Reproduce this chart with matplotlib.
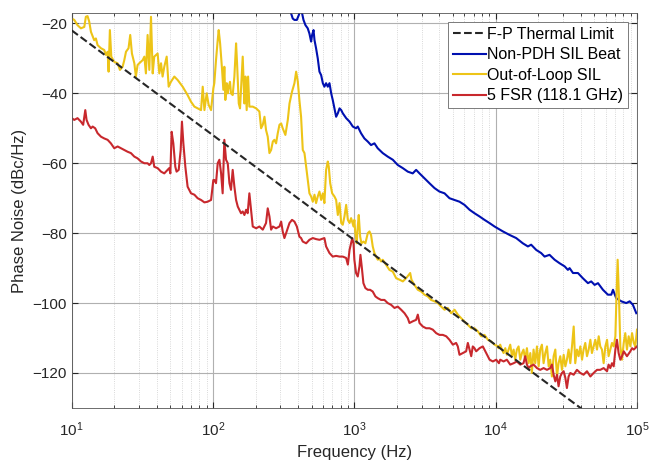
import numpy as np
import matplotlib
matplotlib.use('Agg')
import matplotlib.pyplot as plt
from matplotlib.ticker import LogLocator, NullFormatter

plt.rcParams['font.family'] = ['Liberation Sans', 'DejaVu Sans']
plt.rcParams['mathtext.fontset'] = 'custom'
plt.rcParams['mathtext.rm'] = 'Liberation Sans'

# F-P thermal limit (straight line on the log axis)
thermal_f = [10, 1e5]
thermal_db = [-22, -142]

# Non-PDH SIL beat (log10 of frequency, dBc/Hz)
blue_logf = [2.541, 2.552, 2.564, 2.576, 2.593, 2.607, 2.616, 2.630, 2.640, 2.654,
             2.670, 2.682, 2.694, 2.701, 2.711, 2.718, 2.729, 2.741, 2.753, 2.765,
             2.777, 2.788, 2.800, 2.812, 2.824, 2.836, 2.847, 2.859, 2.871, 2.883,
             2.895, 2.907, 2.918, 2.942, 2.966, 2.989, 3.012, 3.024, 3.047, 3.071,
             3.095, 3.118, 3.142, 3.165, 3.201, 3.236, 3.272, 3.307, 3.343, 3.378,
             3.413, 3.437, 3.461, 3.496, 3.531, 3.567, 3.602, 3.638, 3.673, 3.708,
             3.744, 3.779, 3.815, 3.850, 3.885, 3.921, 3.956, 3.992, 4.051, 4.098,
             4.145, 4.192, 4.228, 4.251, 4.287, 4.322, 4.346, 4.381, 4.417, 4.452,
             4.488, 4.511, 4.523, 4.547, 4.582, 4.617, 4.653, 4.676, 4.700, 4.724,
             4.759, 4.794, 4.818, 4.830, 4.853, 4.889, 4.924, 4.948, 4.971, 4.995]
blue_db = [-14.3, -17.1, -18.6, -19.0, -19.0, -17.6, -16.2, -17.1, -19.0, -20.5,
           -21.4, -22.9, -25.2, -23.3, -21.9, -24.8, -27.1, -30.0, -33.8, -34.8,
           -37.1, -38.1, -37.1, -38.1, -37.1, -40.0, -41.9, -44.3, -46.7, -45.7,
           -44.3, -44.8, -45.7, -47.1, -48.1, -49.5, -50.0, -49.5, -51.4, -52.9,
           -53.8, -54.8, -54.3, -55.7, -57.1, -58.1, -59.0, -60.5, -61.4, -62.4,
           -62.9, -61.9, -62.9, -64.3, -65.7, -67.1, -68.1, -68.6, -70.0, -70.5,
           -71.0, -71.9, -73.3, -74.3, -75.2, -76.2, -77.1, -78.1, -79.5, -80.5,
           -81.4, -82.9, -83.8, -83.3, -84.8, -85.7, -86.7, -86.2, -87.6, -88.6,
           -89.5, -90.5, -90.0, -91.4, -91.4, -92.9, -94.3, -93.8, -94.8, -94.3,
           -96.2, -97.6, -97.6, -96.2, -98.6, -99.5, -100.0, -99.5, -100.5, -102.9]

# Out-of-loop SIL
yel_logf = [1.000, 1.018, 1.041, 1.065, 1.089, 1.100, 1.112, 1.124, 1.136, 1.159,
            1.171, 1.183, 1.207, 1.230, 1.242, 1.254, 1.261, 1.270, 1.280, 1.301,
            1.325, 1.341, 1.360, 1.372, 1.384, 1.402, 1.414, 1.426, 1.443, 1.454,
            1.466, 1.478, 1.502, 1.514, 1.525, 1.537, 1.549, 1.561, 1.573, 1.584,
            1.608, 1.620, 1.632, 1.643, 1.655, 1.672, 1.686, 1.702, 1.726, 1.750,
            1.785, 1.820, 1.844, 1.868, 1.891, 1.915, 1.927, 1.939, 1.955, 1.969,
            1.986, 2.002, 2.009, 2.021, 2.033, 2.040, 2.050, 2.064, 2.073, 2.080,
            2.087, 2.097, 2.104, 2.111, 2.120, 2.127, 2.139, 2.151, 2.163, 2.170,
            2.182, 2.191, 2.203, 2.210, 2.222, 2.229, 2.238, 2.248, 2.257, 2.281,
            2.305, 2.328, 2.340, 2.352, 2.364, 2.375, 2.387, 2.399, 2.411, 2.423,
            2.434, 2.446, 2.458, 2.470, 2.482, 2.493, 2.512, 2.529, 2.541, 2.559,
            2.576, 2.588, 2.600, 2.611, 2.623, 2.635, 2.647, 2.659, 2.670, 2.682,
            2.694, 2.706, 2.718, 2.729, 2.741, 2.753, 2.765, 2.777, 2.788, 2.800,
            2.812, 2.819, 2.829, 2.843, 2.859, 2.871, 2.883, 2.895, 2.907, 2.918,
            2.930, 2.942, 2.954, 2.966, 2.977, 2.994, 3.000, 3.007, 3.017, 3.024,
            3.031, 3.041, 3.050, 3.064, 3.078, 3.095, 3.107, 3.118, 3.130, 3.142,
            3.154, 3.166, 3.177, 3.189, 3.201, 3.225, 3.248, 3.272, 3.296, 3.319,
            3.343, 3.366, 3.385, 3.395, 3.404, 3.425, 3.449, 3.473, 3.496, 3.520,
            3.543, 3.567, 3.591, 3.614, 3.638, 3.661, 3.685, 3.709, 3.732, 3.756,
            3.779, 3.803, 3.827, 3.850, 3.874, 3.898, 3.921, 3.945, 3.968, 3.992,
            4.016, 4.020, 4.032, 4.044, 4.056, 4.068, 4.079, 4.091, 4.103, 4.115,
            4.127, 4.138, 4.150, 4.162, 4.174, 4.186, 4.197, 4.209, 4.221, 4.233,
            4.245, 4.256, 4.268, 4.280, 4.292, 4.304, 4.315, 4.327, 4.339, 4.351,
            4.363, 4.375, 4.386, 4.398, 4.410, 4.422, 4.434, 4.445, 4.457, 4.469,
            4.481, 4.493, 4.504, 4.516, 4.528, 4.540, 4.552, 4.563, 4.575, 4.587,
            4.599, 4.611, 4.622, 4.634, 4.646, 4.658, 4.670, 4.681, 4.693, 4.705,
            4.717, 4.729, 4.740, 4.752, 4.764, 4.776, 4.788, 4.799, 4.811, 4.823,
            4.835, 4.847, 4.854, 4.863, 4.873, 4.882, 4.894, 4.906, 4.917, 4.929,
            4.941, 4.953, 4.965, 4.977, 4.988, 5.000]
yel_db = [-18.6, -19.0, -20.5, -21.4, -21.0, -18.1, -17.9, -19.5, -22.4, -24.8,
          -24.3, -26.2, -27.1, -27.6, -29.0, -28.1, -33.8, -21.9, -29.5, -31.0,
          -31.4, -33.3, -32.4, -30.5, -28.1, -27.1, -23.3, -28.6, -31.4, -35.2,
          -31.9, -31.4, -30.5, -29.5, -34.3, -23.3, -33.3, -18.1, -34.3, -29.5,
          -28.6, -34.3, -31.4, -35.2, -32.4, -29.5, -38.1, -36.7, -35.2, -36.2,
          -38.1, -40.5, -42.4, -43.8, -44.3, -44.8, -38.1, -44.8, -40.0, -43.3,
          -44.8, -38.6, -37.1, -30.5, -24.8, -21.9, -25.7, -33.3, -39.0, -32.4,
          -41.9, -37.1, -40.0, -38.1, -36.7, -40.0, -40.5, -35.2, -25.7, -31.4,
          -42.9, -44.3, -35.2, -29.5, -42.9, -35.2, -44.8, -35.2, -43.8, -43.8,
          -44.3, -45.2, -50.0, -49.0, -46.7, -50.5, -52.4, -57.1, -56.2, -53.8,
          -53.3, -54.3, -51.4, -49.0, -48.6, -50.0, -51.9, -47.6, -42.9, -39.5,
          -37.1, -33.8, -36.7, -41.9, -46.7, -56.2, -57.1, -61.0, -64.8, -68.6,
          -69.5, -71.0, -69.0, -71.4, -69.5, -68.1, -70.5, -68.6, -71.4, -61.9,
          -59.5, -61.0, -65.7, -68.6, -69.5, -70.5, -74.8, -71.4, -77.1, -77.6,
          -75.2, -71.9, -76.2, -77.1, -75.7, -78.1, -76.2, -80.0, -82.9, -78.1,
          -74.8, -81.0, -82.9, -82.4, -82.9, -80.0, -79.5, -80.5, -83.8, -85.7,
          -86.7, -87.6, -87.2, -88.1, -87.6, -89.1, -90.5, -91.0, -92.9, -93.3,
          -93.8, -92.9, -91.9, -91.4, -93.3, -94.8, -96.2, -96.7, -97.6, -98.1,
          -99.1, -99.5, -100.0, -101.0, -101.9, -101.4, -102.9, -101.9, -103.3, -104.3,
          -105.3, -106.2, -107.2, -107.2, -108.1, -109.5, -109.1, -110.5, -111.0, -111.9,
          -112.4, -112.9, -111.9, -113.3, -114.3, -112.9, -114.8, -113.3, -111.9, -115.2,
          -113.3, -116.2, -113.3, -112.4, -116.2, -114.3, -113.3, -116.2, -112.9, -117.2,
          -114.3, -120.0, -113.3, -117.2, -112.4, -118.1, -113.3, -111.9, -117.2, -114.3,
          -112.4, -118.1, -116.2, -121.0, -115.2, -113.3, -121.0, -117.2, -115.2, -119.1,
          -114.8, -118.1, -116.2, -113.3, -117.2, -112.4, -106.7, -117.2, -113.3, -115.2,
          -112.4, -116.2, -113.3, -111.4, -115.2, -113.3, -110.5, -114.3, -112.4, -110.5,
          -113.3, -109.5, -112.4, -113.3, -117.2, -112.4, -110.5, -115.2, -113.3, -111.4,
          -112.4, -109.5, -99.1, -87.6, -99.1, -112.4, -116.2, -111.4, -108.6, -113.3,
          -109.5, -112.4, -108.6, -111.4, -112.4, -107.6]

# 5 FSR (118.1 GHz)
red_logf = [1.000, 1.018, 1.041, 1.065, 1.081, 1.096, 1.105, 1.119, 1.136, 1.148,
            1.166, 1.183, 1.207, 1.230, 1.254, 1.277, 1.301, 1.325, 1.348, 1.372,
            1.395, 1.419, 1.443, 1.466, 1.490, 1.514, 1.537, 1.549, 1.561, 1.573,
            1.584, 1.608, 1.632, 1.655, 1.667, 1.679, 1.690, 1.698, 1.707, 1.719,
            1.733, 1.742, 1.757, 1.771, 1.780, 1.790, 1.804, 1.820, 1.844, 1.868,
            1.891, 1.915, 1.939, 1.962, 1.986, 2.002, 2.009, 2.021, 2.033, 2.045,
            2.057, 2.068, 2.080, 2.092, 2.104, 2.116, 2.127, 2.139, 2.151, 2.163,
            2.175, 2.186, 2.198, 2.210, 2.222, 2.234, 2.245, 2.257, 2.269, 2.281,
            2.305, 2.328, 2.352, 2.375, 2.387, 2.399, 2.411, 2.423, 2.446, 2.470,
            2.482, 2.493, 2.505, 2.517, 2.541, 2.559, 2.576, 2.593, 2.611, 2.623,
            2.635, 2.659, 2.682, 2.706, 2.729, 2.753, 2.788, 2.800, 2.824, 2.847,
            2.871, 2.895, 2.918, 2.942, 2.954, 2.966, 2.985, 2.994, 3.000, 3.012,
            3.024, 3.036, 3.043, 3.052, 3.064, 3.078, 3.095, 3.111, 3.130, 3.149,
            3.166, 3.189, 3.213, 3.236, 3.260, 3.284, 3.307, 3.331, 3.355, 3.378,
            3.390, 3.414, 3.437, 3.449, 3.461, 3.484, 3.508, 3.532, 3.555, 3.579,
            3.602, 3.626, 3.650, 3.673, 3.697, 3.720, 3.732, 3.744, 3.768, 3.791,
            3.803, 3.815, 3.827, 3.838, 3.850, 3.862, 3.886, 3.909, 3.933, 3.957,
            3.980, 4.004, 4.023, 4.032, 4.056, 4.079, 4.103, 4.127, 4.150, 4.174,
            4.197, 4.209, 4.221, 4.233, 4.245, 4.268, 4.292, 4.315, 4.339, 4.363,
            4.386, 4.398, 4.410, 4.422, 4.434, 4.445, 4.457, 4.469, 4.481, 4.493,
            4.504, 4.516, 4.528, 4.552, 4.575, 4.599, 4.622, 4.646, 4.670, 4.693,
            4.717, 4.740, 4.764, 4.788, 4.799, 4.811, 4.823, 4.835, 4.847, 4.858,
            4.870, 4.882, 4.894, 4.906, 4.929, 4.953, 4.965, 4.977, 5.000]
red_db = [-47.1, -47.6, -47.1, -48.1, -49.0, -44.8, -47.6, -49.0, -50.0, -49.5,
          -50.0, -51.4, -52.4, -52.9, -53.3, -54.3, -55.7, -55.2, -55.7, -56.2,
          -56.7, -57.1, -58.1, -58.6, -59.5, -60.0, -60.0, -60.5, -60.0, -58.1,
          -61.0, -61.4, -62.4, -62.9, -62.4, -61.9, -61.4, -62.9, -51.0, -54.3,
          -61.0, -62.4, -61.9, -56.2, -48.1, -54.3, -61.0, -66.7, -68.6, -69.0,
          -70.0, -70.5, -71.2, -71.0, -70.5, -64.8, -64.8, -65.7, -60.0, -59.0,
          -62.9, -68.6, -53.3, -59.0, -60.0, -65.7, -67.6, -61.9, -66.7, -70.5,
          -72.4, -73.3, -74.3, -73.8, -74.8, -73.3, -74.3, -68.6, -73.3, -78.1,
          -78.6, -78.1, -79.0, -77.1, -72.9, -75.2, -79.0, -78.1, -78.6, -78.1,
          -76.7, -79.5, -81.4, -80.0, -77.1, -76.2, -76.7, -78.1, -81.0, -81.4,
          -82.4, -82.9, -81.9, -81.4, -81.7, -81.9, -81.4, -83.8, -85.7, -86.7,
          -86.5, -86.7, -86.7, -87.1, -89.0, -84.8, -81.4, -82.9, -87.6, -91.4,
          -92.4, -89.5, -86.2, -89.5, -94.3, -95.7, -96.2, -96.2, -96.7, -98.1,
          -98.6, -99.1, -99.1, -100.0, -100.5, -101.4, -101.0, -101.9, -102.9, -104.3,
          -105.7, -105.2, -104.8, -103.3, -105.7, -106.7, -107.2, -107.2, -107.6, -108.6,
          -109.1, -109.1, -109.5, -110.5, -111.9, -111.4, -112.4, -114.8, -114.3, -113.8,
          -111.4, -113.3, -115.2, -112.4, -112.9, -113.8, -112.9, -112.4, -114.3, -116.2,
          -116.7, -116.2, -117.2, -116.2, -116.7, -116.2, -117.6, -117.2, -116.7, -117.6,
          -117.2, -115.2, -117.6, -118.6, -118.1, -117.6, -118.6, -119.1, -118.6, -119.1,
          -118.6, -117.6, -120.5, -122.4, -120.5, -123.8, -121.0, -120.0, -119.5, -121.4,
          -124.3, -121.0, -120.0, -120.5, -119.1, -120.0, -120.5, -119.5, -121.0, -120.0,
          -119.1, -119.1, -118.6, -119.5, -117.6, -118.6, -117.2, -118.1, -113.3, -110.5,
          -114.3, -116.2, -115.2, -113.8, -115.2, -113.8, -112.9, -113.3, -112.4]

fig = plt.figure(figsize=(6.52, 4.62), dpi=100)
ax = fig.add_axes([0.110, 0.117, 0.867, 0.855])

ax.semilogx(thermal_f, thermal_db, '--', color='#262626', lw=1.5, label='F-P Thermal Limit', zorder=5)
ax.semilogx(10 ** np.array(blue_logf), blue_db, color='#0010B0', lw=1.5, label='Non-PDH SIL Beat')
ax.semilogx(10 ** np.array(yel_logf), yel_db, color='#EDC417', lw=1.5, label='Out-of-Loop SIL')
ax.semilogx(10 ** np.array(red_logf), red_db, color='#C8282D', lw=1.5, label='5 FSR (118.1 GHz)')

ax.set_xlim(10, 1e5)
ax.set_ylim(-130, -17)
ax.set_yticks([-120, -100, -80, -60, -40, -20])
ax.xaxis.set_minor_locator(LogLocator(base=10, subs=np.arange(2, 10), numticks=20))
ax.xaxis.set_minor_formatter(NullFormatter())

ax.grid(True, which='major', color='#b0b0b0', lw=0.8)
ax.grid(True, which='minor', axis='x', color='#cccccc', lw=0.6, ls=':')
ax.set_axisbelow(True)

ax.tick_params(which='both', direction='in', top=True, right=True, labelsize=11, colors='#262626')
ax.tick_params(which='major', length=4)
ax.tick_params(axis='x', which='major', pad=9)
ax.tick_params(which='minor', length=2)
for s in ax.spines.values():
    s.set_color('#555555')
    s.set_linewidth(0.6)

ax.set_xlabel('Frequency (Hz)', fontsize=12, color='#262626')
ax.set_ylabel('Phase Noise (dBc/Hz)', fontsize=12, color='#262626')

leg = ax.legend(loc='upper right', fontsize=11.5, handlelength=2.05, handletextpad=0.1,
                labelspacing=0.35, borderpad=0.3, borderaxespad=0.55, fancybox=False,
                framealpha=1, edgecolor='#666666')
leg.get_frame().set_linewidth(0.6)

fig.savefig('out.png', dpi=100)
